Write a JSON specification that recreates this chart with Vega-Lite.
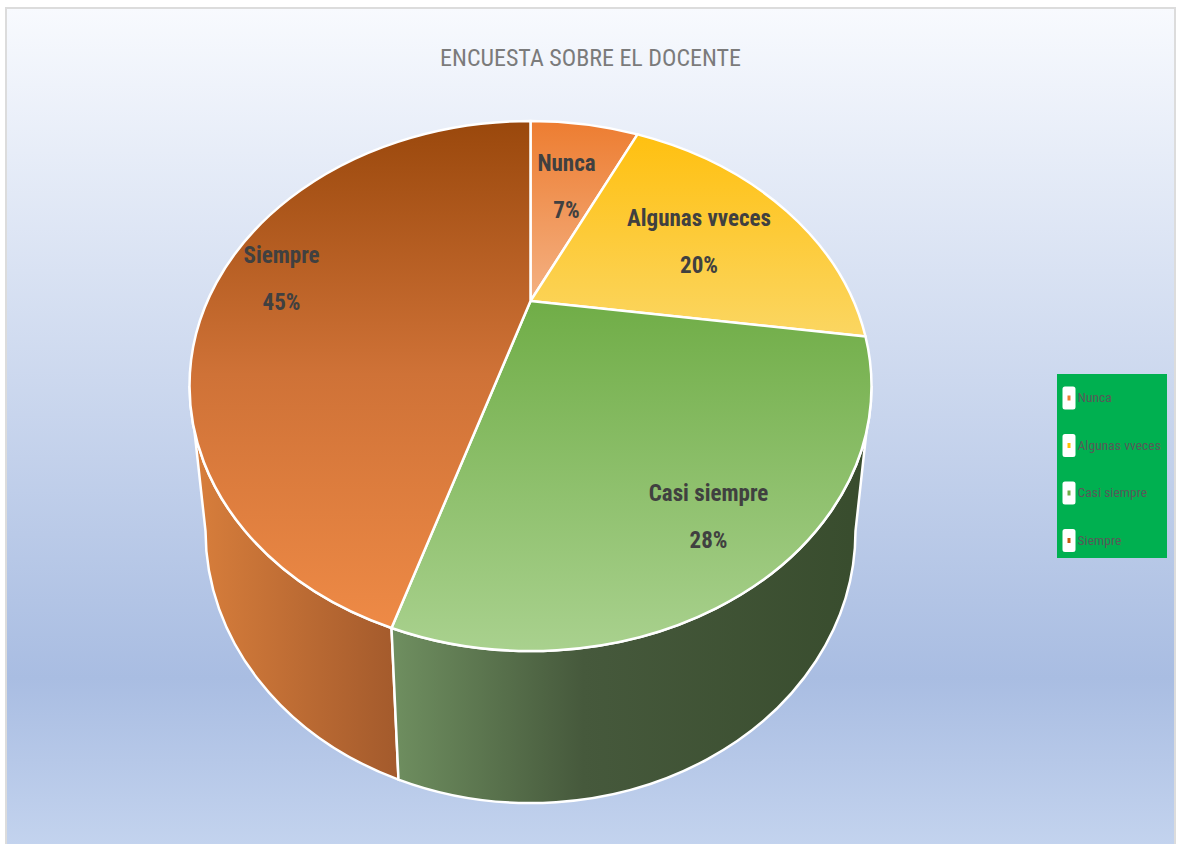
{
"$schema":"https://vega.github.io/schema/vega-lite/v6.json",
"padding":{"left":5,"top":7,"right":5,"bottom":0},
"width":1169,"height":837,
"background":"white",
"title":{"text":"ENCUESTA SOBRE EL DOCENTE","font":"Roboto Condensed","fontSize":24,"fontWeight":"normal","color":"#7b7b7b","anchor":"middle","offset":-64},
"data":{"values":[
{"categoria":"Nunca","porcentaje":7},
{"categoria":"Algunas vveces","porcentaje":20},
{"categoria":"Casi siempre","porcentaje":28},
{"categoria":"Siempre","porcentaje":45}
]},
"transform":[{"calculate":"datum.categoria + '\\n' + datum.porcentaje + '%'","as":"etiqueta"}],
"layer":[
{"data":{"values":[{"fondo":1}]},
"mark":{"type":"rect","stroke":"#dcdcdc","strokeWidth":2,"fill":{"gradient":"linear","x1":0,"y1":0,"x2":0,"y2":1,"stops":[{"offset":0,"color":"#f8fafe"},{"offset":0.8,"color":"#a9bde2"},{"offset":1,"color":"#c3d3ee"}]}},"encoding":{}},
{"mark":{"type":"point","filled":true,"size":0,"opacity":1},
"encoding":{"color":{"field":"categoria","type":"nominal","sort":null,
"scale":{"domain":["Nunca","Algunas vveces","Casi siempre","Siempre"],"range":["#ED7D31","#FFC000","#70AD47","#C55A11"]},
"legend":{"orient":"none","legendX":1051,"legendY":366,"title":null,"fillColor":"#00B050","padding":5.5,"rowPadding":17.5,
"symbolType":"M-.25,-.3125H.25V.3125H-.25Z M-.25,-.5625H.25V.5625H-.25Z","symbolSize":1024,"symbolStrokeColor":"white","symbolStrokeWidth":5,"symbolOpacity":1,"symbolOffset":-12,"labelOffset":-10,
"labelFont":"Roboto Condensed","labelFontSize":13.6,"labelColor":"#595959",
"encode":{"symbols":{"update":{"size":{"value":1024},"stroke":{"value":"white"},"strokeWidth":{"value":5},"strokeJoin":{"value":"round"},"opacity":{"value":1}}}}}}}},
{"transform":[{"filter":"datum.categoria === 'Siempre'"}],
"mark":{"type":"point","filled":true,"size":4,"opacity":1,"stroke":"white","strokeWidth":2.5,
"shape":"M-199,201.5A341,265 0 0 1 -401,-40.5L-385,104.5A325,272 0 0 0 -192,353.1Z",
"fill":{"gradient":"linear","x1":0,"y1":0,"x2":1,"y2":0,"stops":[{"offset":0,"color":"#d97f3c"},{"offset":1,"color":"#a35a2c"}]}}},
{"transform":[{"filter":"datum.categoria === 'Casi siempre'"}],
"mark":{"type":"point","filled":true,"size":4,"opacity":1,"stroke":"white","strokeWidth":2.5,
"shape":"M-199,201.5A341,265 0 0 0 281,-40.5L265,104.5A325,272 0 0 1 -192,353.1Z",
"fill":{"gradient":"linear","x1":0,"y1":0,"x2":1,"y2":0,"stops":[{"offset":0,"color":"#6f8f60"},{"offset":0.4,"color":"#46593c"},{"offset":1,"color":"#384c2d"}]}}},
{"transform":[{"filter":"datum.categoria === 'Nunca'"}],
"mark":{"type":"point","filled":true,"size":4,"opacity":1,"stroke":"white","strokeWidth":2.5,"shape":"M-60,-125.5L-60,-305.5A341,265 0 0 1 47,-292.1Z",
"fill":{"gradient":"linear","x1":0,"y1":0,"x2":0,"y2":1,"stops":[{"offset":0,"color":"#ed7d31"},{"offset":1,"color":"#f4b183"}]}}},
{"transform":[{"filter":"datum.categoria === 'Algunas vveces'"}],
"mark":{"type":"point","filled":true,"size":4,"opacity":1,"stroke":"white","strokeWidth":2.5,"shape":"M-60,-125.5L47,-292.1A341,265 0 0 1 275,-90Z",
"fill":{"gradient":"linear","x1":0,"y1":0,"x2":0,"y2":1,"stops":[{"offset":0,"color":"#ffc010"},{"offset":1,"color":"#fbd662"}]}}},
{"transform":[{"filter":"datum.categoria === 'Casi siempre'"}],
"mark":{"type":"point","filled":true,"size":4,"opacity":1,"stroke":"white","strokeWidth":2.5,"shape":"M-60,-125.5L275,-90A341,265 0 0 1 281,-40.5A341,265 0 0 1 -199,201.5Z",
"fill":{"gradient":"linear","x1":0,"y1":0,"x2":0,"y2":1,"stops":[{"offset":0,"color":"#70ad47"},{"offset":1,"color":"#a9d18e"}]}}},
{"transform":[{"filter":"datum.categoria === 'Siempre'"}],
"mark":{"type":"point","filled":true,"size":4,"opacity":1,"stroke":"white","strokeWidth":2.5,"shape":"M-60,-125.5L-199,201.5A341,265 0 0 1 -401,-40.5A341,265 0 0 1 -60,-305.5Z",
"fill":{"gradient":"linear","x1":0,"y1":0,"x2":0,"y2":1,"stops":[{"offset":0,"color":"#9a480c"},{"offset":0.5,"color":"#cf7237"},{"offset":1,"color":"#ee8a46"}]}}},
{"transform":[{"filter":"datum.categoria === 'Nunca'"}],"mark":{"type":"text","font":"Roboto Condensed","fontWeight":"bold","fontSize":23,"color":"#404040","lineBreak":"\n","lineHeight":46.5,"baseline":"middle","dx":-24,"dy":-262.5},"encoding":{"text":{"field":"etiqueta"}}},
{"transform":[{"filter":"datum.categoria === 'Algunas vveces'"}],"mark":{"type":"text","font":"Roboto Condensed","fontWeight":"bold","fontSize":23,"color":"#404040","lineBreak":"\n","lineHeight":46.5,"baseline":"middle","dx":108.5,"dy":-207.5},"encoding":{"text":{"field":"etiqueta"}}},
{"transform":[{"filter":"datum.categoria === 'Casi siempre'"}],"mark":{"type":"text","font":"Roboto Condensed","fontWeight":"bold","fontSize":23,"color":"#404040","lineBreak":"\n","lineHeight":46.5,"baseline":"middle","dx":118,"dy":67.5},"encoding":{"text":{"field":"etiqueta"}}},
{"transform":[{"filter":"datum.categoria === 'Siempre'"}],"mark":{"type":"text","font":"Roboto Condensed","fontWeight":"bold","fontSize":23,"color":"#404040","lineBreak":"\n","lineHeight":46.5,"baseline":"middle","dx":-309,"dy":-170.5},"encoding":{"text":{"field":"etiqueta"}}}
]
}
